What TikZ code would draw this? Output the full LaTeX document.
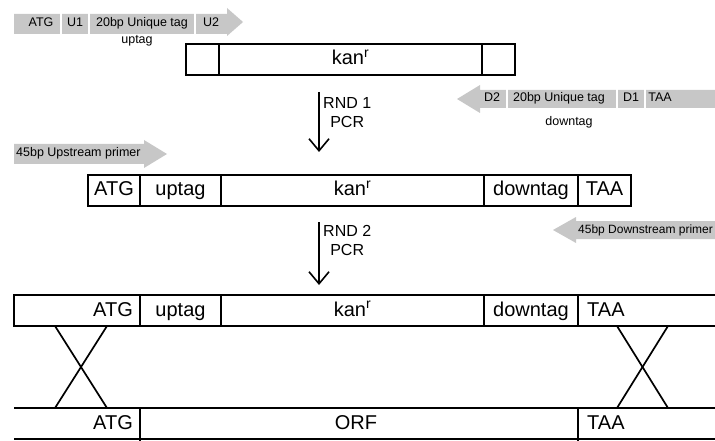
\documentclass[tikz,border=0pt]{standalone}
\usepackage{fontspec}
\setmainfont{Liberation Sans}
\usetikzlibrary{arrows.meta,positioning}
\definecolor{primergray}{gray}{0.78}

\begin{document}
\begin{tikzpicture}[x=1pt, y=-1pt,
    cell/.style={draw, line width=1.7pt, inner sep=0pt, outer sep=0pt,
                 minimum height=31pt, text height=14.5pt, text depth=3.5pt,
                 font=\fontsize{20}{24}\selectfont},
    celltext/.style={inner sep=0pt, text height=14.5pt, text depth=3.5pt,
                 font=\fontsize{20}{24}\selectfont},
    strand/.style={line width=1.7pt},
    primer/.style={fill=primergray, draw=none},
    tagsep/.style={white, line width=2pt},
    tagtext/.style={inner sep=0pt, text height=8.5pt, text depth=2.5pt,
                 font=\fontsize{12.5}{14}\selectfont},
    pcr/.style={line width=1.6pt, -{Straight Barb[length=12pt,width=20pt,line width=1.6pt]}},
    pcrtext/.style={align=center, inner sep=0pt, font=\fontsize{16}{19}\selectfont}]
\useasboundingbox (0,0) rectangle (715,441);

% uptag primer
\fill[primer] (14,14) -- (227,14) -- (227,8) -- (243,22) -- (227,36) -- (227,34) -- (14,34) -- cycle;
\foreach \x in {61,89,195} \draw[tagsep] (\x,12) -- (\x,36);
\node[tagtext] (upATG) at (41,24) {ATG};
\node[tagtext] (upU1) at (75,24) {U1};
\node[tagtext] (upTag) at (142,24) {20bp Unique tag};
\node[tagtext] (upU2) at (211,24) {U2};
\node[tagtext] (upLabel) at (137,41) {uptag};

% kanamycin cassette
\node[cell, minimum width=33pt, anchor=west] (leftA) at (186,59.5) {};
\node[cell, minimum width=263pt, right=0pt of leftA] (kanA) {kan\textsuperscript{r}};
\node[cell, minimum width=33pt, right=0pt of kanA] (rightA) {};

% downtag primer
\fill[primer] (715,90) -- (480,90) -- (480,85) -- (457,99) -- (480,113) -- (480,108) -- (715,108) -- cycle;
\foreach \x in {507,617,645} \draw[tagsep] (\x,88) -- (\x,110);
\node[tagtext] (dnD2) at (492,99) {D2};
\node[tagtext] (dnTag) at (559,99) {20bp Unique tag};
\node[tagtext] (dnD1) at (631,99) {D1};
\node[tagtext] (dnTAA) at (660,99) {TAA};
\node[tagtext] (dnLabel) at (569,123) {downtag};

% round 1
\coordinate (pcrOneTop) at (319,92);
\coordinate (pcrOneEnd) at (319,152);
\draw[pcr] (pcrOneTop) -- (pcrOneEnd);
\node[pcrtext, anchor=west] (rndOne) at (323,112.5) {RND 1\\PCR};

% upstream primer
\fill[primer] (14,144) -- (144,144) -- (144,140) -- (167,154) -- (144,168) -- (144,164) -- (14,164) -- cycle;
\node[tagtext, anchor=west] (upPrimer) at (16,154) {45bp Upstream primer};

% tagged cassette
\node[cell, minimum width=52pt, anchor=west] (atgB) at (88,190.5) {ATG};
\node[cell, minimum width=81pt, right=0pt of atgB] (uptagB) {uptag};
\node[cell, minimum width=263pt, right=0pt of uptagB] (kanB) {kan\textsuperscript{r}};
\node[cell, minimum width=94pt, right=0pt of kanB] (downB) {downtag};
\node[cell, minimum width=53pt, right=0pt of downB] (taaB) {TAA};

% downstream primer
\fill[primer] (715,221) -- (576,221) -- (576,217) -- (553,230) -- (576,243) -- (576,239) -- (715,239) -- cycle;
\node[tagtext, font=\fontsize{12}{14}\selectfont, anchor=west] (dnPrimer) at (578,230) {45bp Downstream primer};

% round 2
\coordinate (pcrTwoTop) at (319,222);
\coordinate (pcrTwoEnd) at (319,285);
\draw[pcr] (pcrTwoTop) -- (pcrTwoEnd);
\node[pcrtext, anchor=west] (rndTwo) at (323,240) {RND 2\\PCR};

% deletion cassette
\node[cell, minimum width=126pt, anchor=west] (atgC) at (14,310.5) {};
\node[celltext, anchor=east] (atgCtext) at (133,310.5) {ATG};
\node[cell, minimum width=81pt, right=0pt of atgC] (uptagC) {uptag};
\node[cell, minimum width=263pt, right=0pt of uptagC] (kanC) {kan\textsuperscript{r}};
\node[cell, minimum width=94pt, right=0pt of kanC] (downC) {downtag};
\draw[strand] (downC.north east) -- (715,295);
\draw[strand] (downC.south east) -- (715,326);
\node[celltext, anchor=west] (taaC) at (587,310.5) {TAA};

% genome
\draw[strand] (14,408) -- (715,408);
\draw[strand] (14,439) -- (715,439);
\draw[strand] (140,408) -- (140,441);
\draw[strand] (578,408) -- (578,441);
\node[celltext, anchor=east] (atgD) at (133,424) {ATG};
\node[celltext] (orfD) at (356,424) {ORF};
\node[celltext, anchor=west] (taaD) at (587,424) {TAA};

% crossovers
\foreach \a/\b in {55/107, 617/668} {
  \draw[strand] (\a,326) -- (\b,408);
  \draw[strand] (\b,326) -- (\a,408);
}
\end{tikzpicture}
\end{document}
